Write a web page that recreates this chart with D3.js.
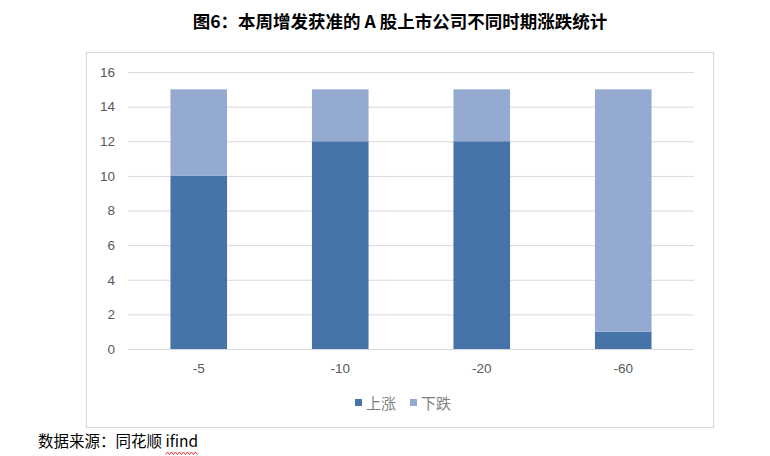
<!DOCTYPE html>
<html><head><meta charset="utf-8">
<script src="https://cdn.jsdelivr.net/npm/d3@7"></script>
<style>body{margin:0;background:#fff}</style>
</head><body>
<svg id="c" width="770" height="456"></svg>
<script>
const categories = ["-5", "-10", "-20", "-60"];
const upValues = [10, 12, 12, 1];
const downValues = [5, 3, 3, 14];
const yTicks = [0, 2, 4, 6, 8, 10, 12, 14, 16];
const seriesNames = ["上涨", "下跌"];
const colors = ["#4674a8", "#95aad0"];

const svg = d3.select("#c");
const font = "'Noto Sans CJK SC','Noto Sans',sans-serif";

svg.append("text").attr("x", 400).attr("y", 28).attr("text-anchor", "middle")
  .attr("font-family", font).attr("font-weight", "bold").attr("font-size", 17.5)
  .attr("fill", "#000").text("图6：本周增发获准的 A 股上市公司不同时期涨跌统计");

svg.append("rect").attr("x", 86.5).attr("y", 52.5).attr("width", 627).attr("height", 375)
  .attr("fill", "none").attr("stroke", "#d9d9d9").attr("stroke-width", 1);

const x = d3.scaleBand().domain(categories).range([128, 694]).paddingInner(0.6).paddingOuter(0.3);
const y = d3.scaleLinear().domain([0, 16]).range([349, 72]);

const yAxis = svg.append("g").attr("transform", "translate(128,0)")
  .call(d3.axisLeft(y).tickValues(yTicks).tickSize(-566).tickPadding(13));
yAxis.select(".domain").remove();
yAxis.selectAll(".tick line").attr("stroke", "#d9d9d9");
yAxis.selectAll("text").attr("font-family", "'Liberation Sans',Arial,sans-serif").attr("font-size", 13.5).attr("fill", "#595959");

const stackData = categories.map((c, i) => ({cat: c, up: upValues[i], down: downValues[i]}));
const series = d3.stack().keys(["up", "down"])(stackData);
svg.append("g").selectAll("g").data(series).join("g").attr("fill", (d, i) => colors[i])
  .selectAll("rect").data(d => d).join("rect")
  .attr("x", d => x(d.data.cat)).attr("width", x.bandwidth())
  .attr("y", d => y(d[1])).attr("height", d => y(d[0]) - y(d[1]));

const xAxis = svg.append("g").attr("transform", "translate(0,349)")
  .call(d3.axisBottom(x).tickSize(0).tickPadding(14));
xAxis.select(".domain").remove();
xAxis.selectAll("text").attr("font-family", "'Liberation Sans',Arial,sans-serif").attr("font-size", 13.5).attr("fill", "#595959");

// legend
const legendX = [355, 410];
seriesNames.forEach((n, i) => {
  svg.append("rect").attr("x", legendX[i]).attr("y", 399).attr("width", 7).attr("height", 7).attr("fill", colors[i]);
  svg.append("text").attr("x", legendX[i] + 11).attr("y", 409).attr("font-family", font)
    .attr("font-size", 15).attr("fill", "#7f7f7f").text(n);
});

// source
const src = svg.append("text").attr("x", 38).attr("y", 447).attr("font-family", font)
  .attr("font-size", 15.5).attr("fill", "#000");
src.append("tspan").text("数据来源：同花顺 ");
src.append("tspan").text("ifind");
// red wavy underline under "ifind"
const srcNode = src.node();
const n = srcNode.getNumberOfChars();
const start = srcNode.getStartPositionOfChar(n - 5).x;
const end = srcNode.getEndPositionOfChar(n - 1).x;
let pts = [];
for (let px = start, k = 0; px <= end; px += 2, k++) pts.push([px, k % 2 ? 452 : 454.5]);
svg.append("path").attr("d", d3.line()(pts)).attr("fill", "none").attr("stroke", "#e00").attr("stroke-width", 0.8);
</script>
</body></html>
